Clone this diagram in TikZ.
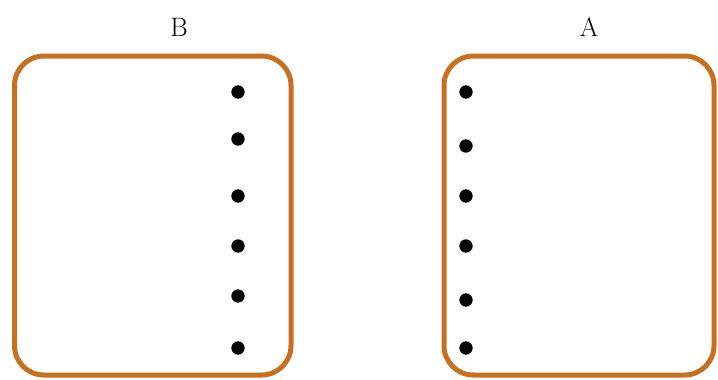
\documentclass[tikz,border=0pt]{standalone}
\usepackage{xcolor}
\usepackage{tikz}
\usetikzlibrary{positioning}
\definecolor{setorange}{RGB}{198,112,32}

\begin{document}
\begin{tikzpicture}[x=0.75pt, y=-0.75pt, every node/.style={font=\fontsize{20}{22}\selectfont}]
  \useasboundingbox (0,0) rectangle (718,379);
  \tikzset{setbox/.style={draw=setorange, line width=3.75pt, rounded corners=22pt}}
  % the two sets
  \draw[setbox] (14.5,56) rectangle (291,375);
  \draw[setbox] (444,56) rectangle (714,375);
  \node (labB) at (179,27) {B};
  \node (labA) at (589,27) {A};
  % elements
  \foreach \y in {92,139,196,246,296,348} \fill (238,\y) circle (5pt);
  \foreach \y in {92,146,196,246,300,348} \fill (466,\y) circle (5pt);
\end{tikzpicture}
\end{document}
